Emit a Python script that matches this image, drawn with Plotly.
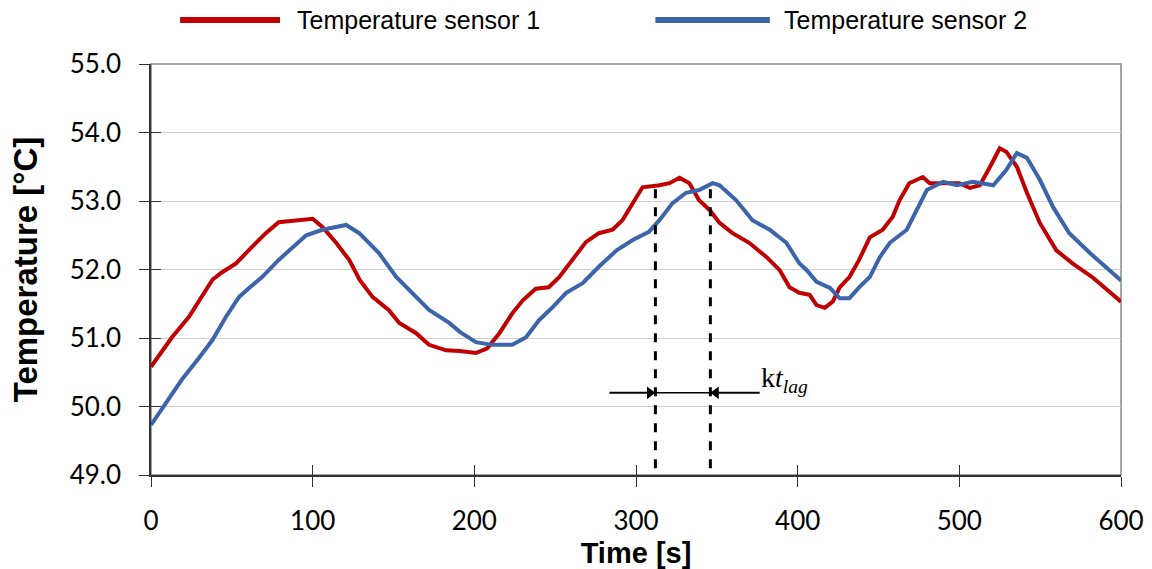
import plotly.graph_objects as go

# Sensor 1 (red)
t1 = [0, 13, 23.5, 30, 38, 44, 52.6, 62.5, 71, 79, 90, 100, 106, 114.5, 122.6, 129, 137, 147, 153.6, 164, 172, 182.5, 191, 201, 208,
      215.5, 223.5, 230, 238, 246, 252.6, 260.7, 269, 277, 285.5, 291.6, 298, 304, 314.5, 320.7, 327, 333, 339, 345.5, 351.7,
      359.7, 370, 380.8, 388.9, 395, 401, 407.4, 411.7, 416.7, 421.7, 426, 432, 438, 444.6, 452.6, 458.8, 463, 469, 477.4,
      481.7, 490, 500, 506.5, 512.7, 519, 525, 529, 535.6, 541.8, 549.8, 560, 570, 582.7, 600]
T1 = [50.58, 51.01, 51.31, 51.55, 51.85, 51.96, 52.09, 52.33, 52.53, 52.69, 52.71, 52.74, 52.62, 52.39, 52.14, 51.85, 51.6, 51.41,
      51.22, 51.07, 50.9, 50.82, 50.81, 50.78, 50.85, 51.07, 51.36, 51.55, 51.72, 51.74, 51.89, 52.14, 52.4, 52.53, 52.58,
      52.72, 52.97, 53.2, 53.23, 53.26, 53.34, 53.26, 53.01, 52.87, 52.68, 52.53, 52.39, 52.18, 51.99, 51.74, 51.66, 51.63,
      51.48, 51.44, 51.53, 51.74, 51.89, 52.14, 52.47, 52.58, 52.77, 53.01, 53.26, 53.35, 53.26, 53.26, 53.26, 53.19, 53.23,
      53.5, 53.77, 53.72, 53.5, 53.12, 52.68, 52.28, 52.09, 51.88, 51.53]

# Sensor 2 (blue)
t2 = [0, 9, 19, 30, 38, 46.4, 54.5, 60.7, 68.7, 79, 87.3, 96, 106, 120.7, 128.8, 141, 151.7, 161.6, 172, 184.5, 191, 201, 211,
      223.5, 232, 240, 248.5, 256.8, 267, 277, 288, 298, 308, 314.5, 322.6, 331, 339, 347.4, 351.7, 362, 372, 382.7, 393,
      401, 405.6, 411.7, 420, 426, 432, 438, 444.6, 450.8, 457, 467.5, 473.7, 479.9, 490, 498.5, 508.4, 521, 529, 535.6,
      541.8, 549.8, 558, 568, 580.8, 600]
T2 = [49.73, 50.05, 50.39, 50.72, 50.97, 51.31, 51.6, 51.73, 51.89, 52.14, 52.31, 52.5, 52.58, 52.65, 52.53, 52.24, 51.89, 51.66,
      51.41, 51.22, 51.09, 50.94, 50.9, 50.9, 51.01, 51.26, 51.45, 51.66, 51.8, 52.04, 52.28, 52.43, 52.55, 52.72, 52.97,
      53.12, 53.16, 53.26, 53.23, 53.01, 52.72, 52.58, 52.39, 52.09, 51.99, 51.82, 51.73, 51.58, 51.58, 51.74, 51.89, 52.18,
      52.39, 52.58, 52.87, 53.16, 53.28, 53.23, 53.28, 53.23, 53.45, 53.7, 53.63, 53.31, 52.91, 52.53, 52.24, 51.84]

names = ["Temperature sensor 1", "Temperature sensor 2"]
colors = ["#C00000", "#3C64AA"]

x_ticks = [0, 100, 200, 300, 400, 500, 600]
y_ticks = [49.0, 50.0, 51.0, 52.0, 53.0, 54.0, 55.0]
y_labels = ["49.0", "50.0", "51.0", "52.0", "53.0", "54.0", "55.0"]

lag_start, lag_end = 312, 346
lag_top, lag_bottom = 53.26, 49.1
arrow_y = 50.2
arrow_left, arrow_right = 283.6, 376.5
head_half = 3.5  # half arrowhead length in seconds

fig = go.Figure()
fig.add_trace(go.Scatter(x=t1, y=T1, mode="lines", name=names[0],
                         line=dict(color=colors[0], width=4), showlegend=False, hoverinfo="skip"))
fig.add_trace(go.Scatter(x=t2, y=T2, mode="lines", name=names[1],
                         line=dict(color=colors[1], width=4), showlegend=False, hoverinfo="skip"))
# invisible trace to activate the overlay axes (inner halves of the crossing tick marks)
fig.add_trace(go.Scatter(x=[None], y=[None], xaxis="x2", yaxis="y2", showlegend=False, hoverinfo="skip"))

# dashed vertical lines
for xv in (lag_start, lag_end):
    fig.add_shape(type="line", x0=xv, x1=xv, y0=lag_bottom, y1=lag_top, xref="x", yref="y",
                  line=dict(color="black", width=3, dash="dash"))
# horizontal arrow lines
fig.add_shape(type="line", x0=arrow_left, x1=lag_start, y0=arrow_y, y1=arrow_y, xref="x", yref="y",
              line=dict(color="black", width=2))
fig.add_shape(type="line", x0=lag_start, x1=lag_end, y0=arrow_y, y1=arrow_y, xref="x", yref="y",
              line=dict(color="black", width=1.5))
fig.add_shape(type="line", x0=lag_end, x1=arrow_right, y0=arrow_y, y1=arrow_y, xref="x", yref="y",
              line=dict(color="black", width=2))
# arrowheads
fig.add_trace(go.Scatter(x=[lag_start - head_half], y=[arrow_y], mode="markers", showlegend=False, hoverinfo="skip",
                         marker=dict(symbol="triangle-right", size=11, color="black")))
fig.add_trace(go.Scatter(x=[lag_end + head_half], y=[arrow_y], mode="markers", showlegend=False, hoverinfo="skip",
                         marker=dict(symbol="triangle-left", size=11, color="black")))

fig.add_annotation(x=392, y=50.4, xref="x", yref="y", text="k<i>t</i><sub><i>lag</i></sub>", showarrow=False,
                   font=dict(family="Liberation Serif", size=28, color="black"))

# manual legend (paper coords)
legend_pos = [(0.030, 0.133, 0.148), (0.520, 0.638, 0.651)]
for (xa, xb, xt), nm, col in zip(legend_pos, names, colors):
    fig.add_shape(type="line", x0=xa, x1=xb, y0=1.107, y1=1.107, xref="paper", yref="paper",
                  line=dict(color=col, width=6))
    fig.add_annotation(x=xt, y=1.107, xref="paper", yref="paper", text=nm, showarrow=False,
                       xanchor="left", yanchor="middle",
                       font=dict(family="Liberation Sans", size=25, color="black"))

# gray box around plot area (top/right)
fig.add_shape(type="rect", x0=0, x1=1, y0=0, y1=1, xref="paper", yref="paper",
              line=dict(color="#888888", width=1.5), layer="below")

tick_font = dict(family="Lato", size=26, color="black")
fig.update_layout(
    width=1152, height=569,
    margin=dict(l=151, r=31, t=64, b=94),
    paper_bgcolor="white", plot_bgcolor="white",
    showlegend=False,
    xaxis=dict(range=[0, 600], tickvals=x_ticks, ticks="outside", ticklen=10, tickcolor="#333",
               showgrid=False, zeroline=False, showline=True, linecolor="#333", linewidth=1.5,
               tickfont=tick_font, ticklabelstandoff=12, automargin=False,
               title=dict(text="<b>Time [s]</b>", font=dict(family="Liberation Sans", size=29, color="black"),
                          standoff=8)),
    yaxis=dict(range=[49, 55], tickvals=y_ticks, ticktext=y_labels, ticks="outside", ticklen=10,
               tickcolor="#333", showgrid=True, gridcolor="#D0D0D0", gridwidth=1.4, zeroline=False,
               showline=True, linecolor="#333", linewidth=1.5,
               tickfont=tick_font, ticklabelstandoff=13, automargin=False,
               title=dict(text="<b>Temperature [°C]</b>", font=dict(family="Liberation Sans", size=33, color="black"),
                          standoff=22)),
    xaxis2=dict(range=[0, 600], tickvals=x_ticks, ticks="inside", ticklen=10, tickcolor="#333",
                overlaying="x", anchor="y2", side="bottom", showticklabels=False, showgrid=False,
                zeroline=False, showline=False, automargin=False),
    yaxis2=dict(range=[49, 55], tickvals=y_ticks, ticks="inside", ticklen=10, tickcolor="#333",
                overlaying="y", anchor="x2", side="left", showticklabels=False, showgrid=False,
                zeroline=False, showline=False, automargin=False),
)

fig.write_html("out.html")
